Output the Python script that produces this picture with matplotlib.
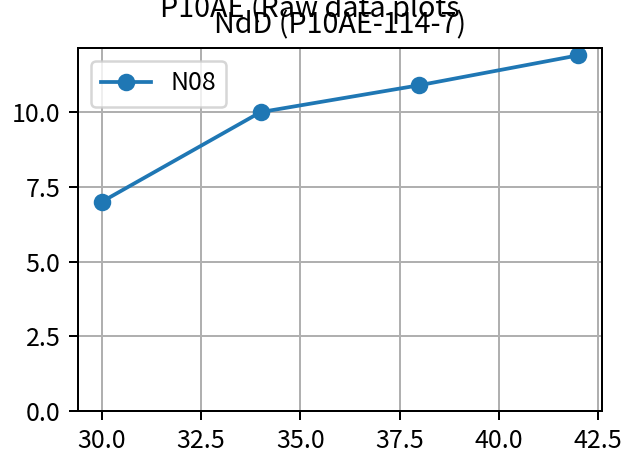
import matplotlib
matplotlib.use("Agg")
import matplotlib.pyplot as plt
from matplotlib.ticker import MultipleLocator

plt.rcParams['font.family'] = ['Noto Sans CJK JP', 'DejaVu Sans']
plt.rcParams['font.size'] = 10

# data
depth = [30, 34, 38, 42]
n08 = [7.0, 10.0, 10.9, 11.9]
series_name = "N08"
suptitle = "P10AE (Raw data plots"
title = "NdD (P10AE-114-7)"

W, H = 635, 455
fig = plt.figure(figsize=(W / 180, H / 180), dpi=180)
ax = fig.add_axes([78 / W, 1 - 411 / H, (602 - 78) / W, (411 - 48) / H])

ax.plot(depth, n08, marker="o", label=series_name)
ax.set_ylim(bottom=0)
ax.yaxis.set_major_locator(MultipleLocator(2.5))
ax.xaxis.set_major_locator(MultipleLocator(2.5))
ax.grid(True)
ax.legend(loc="upper left")
ax.set_title(title, fontsize=11.5)

fig.text(310 / W, 1 - 17 / H, suptitle, ha="center", va="baseline", fontsize=11.5)

fig.savefig("out.png", dpi=180)
